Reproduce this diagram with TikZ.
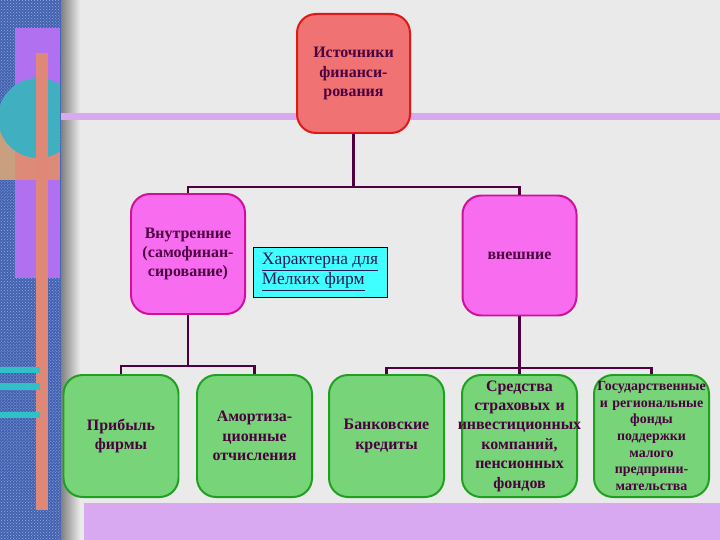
\documentclass[tikz,border=0pt]{standalone}
\usepackage{fontspec}
\setmainfont{Liberation Serif}
\usetikzlibrary{positioning,patterns}
\definecolor{bg}{HTML}{EAEAEA}
\definecolor{strip}{HTML}{4262B0}
\definecolor{stripdot}{HTML}{98B0E8}
\definecolor{violetbar}{HTML}{D8A8F0}
\definecolor{violetrect}{HTML}{B070F0}
\definecolor{tealc}{HTML}{40B0C0}
\definecolor{tanc}{HTML}{C8A080}
\definecolor{orangebar}{HTML}{E08878}
\definecolor{cyanbar}{HTML}{30C0C8}
\definecolor{topfill}{HTML}{F07272}
\definecolor{topedge}{HTML}{E01818}
\definecolor{midfill}{HTML}{F86CF0}
\definecolor{midedge}{HTML}{D0109A}
\definecolor{botfill}{HTML}{78D478}
\definecolor{botedge}{HTML}{20A020}
\definecolor{txt}{HTML}{4B0040}
\definecolor{conncol}{HTML}{500040}
\definecolor{notefill}{HTML}{40FFFF}
\definecolor{notetxt}{HTML}{2A1A55}
\tikzset{
  box/.style={rectangle, rounded corners=19bp, line width=2pt, align=center,
    text=txt, font=\bfseries\fontsize{16}{19.5}\selectfont, inner sep=0pt, text width=111bp},
  topbox/.style={box, fill=topfill, draw=topedge, minimum width=113bp, minimum height=119bp},
  midbox/.style={box, fill=midfill, draw=midedge, minimum width=114bp, minimum height=120bp},
  botbox/.style={box, fill=botfill, draw=botedge, minimum width=115bp, minimum height=122bp},
  notebox/.style={rectangle, fill=notefill, draw=black, line width=0.8pt, align=left,
    text=notetxt, font=\fontsize{17.5}{20}\selectfont, minimum width=134bp, minimum height=50bp, inner sep=2pt},
  conn/.style={draw=conncol, line width=2.6pt}
}
\begin{document}
\begin{tikzpicture}[x=1bp,y=-1bp]
% background
\fill[bg] (0,0) rectangle (720,540);
\useasboundingbox (0,0) rectangle (720,540);
% left decorative strip
\fill[strip] (0,0) rectangle (61,540);
\fill[pattern=crosshatch dots, pattern color=stripdot] (0,0) rectangle (61,540);
\shade[left color=black!45!bg, right color=bg] (61,0) rectangle (80,540);
\fill[violetrect] (15,28) rectangle (60,278);
\fill[tanc] (0,125) rectangle (15,180);
\fill[orangebar!90!tanc] (15,150) rectangle (60,180);
\begin{scope}
  \clip (0,0) rectangle (60,540);
  \fill[tealc] (38,118) circle (40);
\end{scope}
\fill[orangebar] (36,53) rectangle (48,510);
\fill[cyanbar] (0,367) rectangle (40,373);
\fill[cyanbar] (0,383) rectangle (40,390);
\fill[cyanbar] (0,412) rectangle (40,418);
% horizontal violet bar and bottom violet panel
\fill[violetbar] (61,113) rectangle (720,120);
\fill[violetbar] (84,503) rectangle (720,540);
% nodes
\node[topbox] (top) at (353.5,73.5) {Источники\\финанси-\\рования};
\node[midbox] (mL) at (188,254) {Внутренние\\(самофинан-\\сирование)};
\node[midbox] (mR) at (519.5,255.5) {внешние};
\node[notebox] (note) at (320,272) {\underline{Характерна для}\\\underline{Мелких фирм}};
\node[botbox] (b1) at (121,436) {Прибыль\\фирмы};
\node[botbox] (b2) at (254.5,436) {Амортиза-\\ционные\\отчисления};
\node[botbox] (b3) at (386.5,436) {Банковские\\кредиты};
\node[botbox] (b4) at (519.5,436) {Средства\\страховых и\\\makebox[0pt][c]{инвестиционных}\\компаний,\\пенсионных\\фондов};
\node[botbox, font=\bfseries\fontsize{14}{16.6}\selectfont] (b5) at (651.5,436) {\makebox[0pt][c]{Государственные}\\и региональные\\фонды\\поддержки\\малого\\предприни-\\мательства};
% connectors
\coordinate (j1) at (353.5,187);
\coordinate (j2) at (188,366);
\coordinate (j3) at (519.5,368);
\draw[conn] (top.south) -- (j1);
\draw[conn] (j1) -| (mL.north);
\draw[conn] (j1) -| (mR.north);
\draw[conn] (mL.south) -- (j2);
\draw[conn] (j2) -| (b1.north);
\draw[conn] (j2) -| (b2.north);
\draw[conn] (mR.south) -- (j3);
\draw[conn] (j3) -| (b3.north);
\draw[conn] (j3) -- (b4.north);
\draw[conn] (j3) -| (b5.north);
\end{tikzpicture}
\end{document}
